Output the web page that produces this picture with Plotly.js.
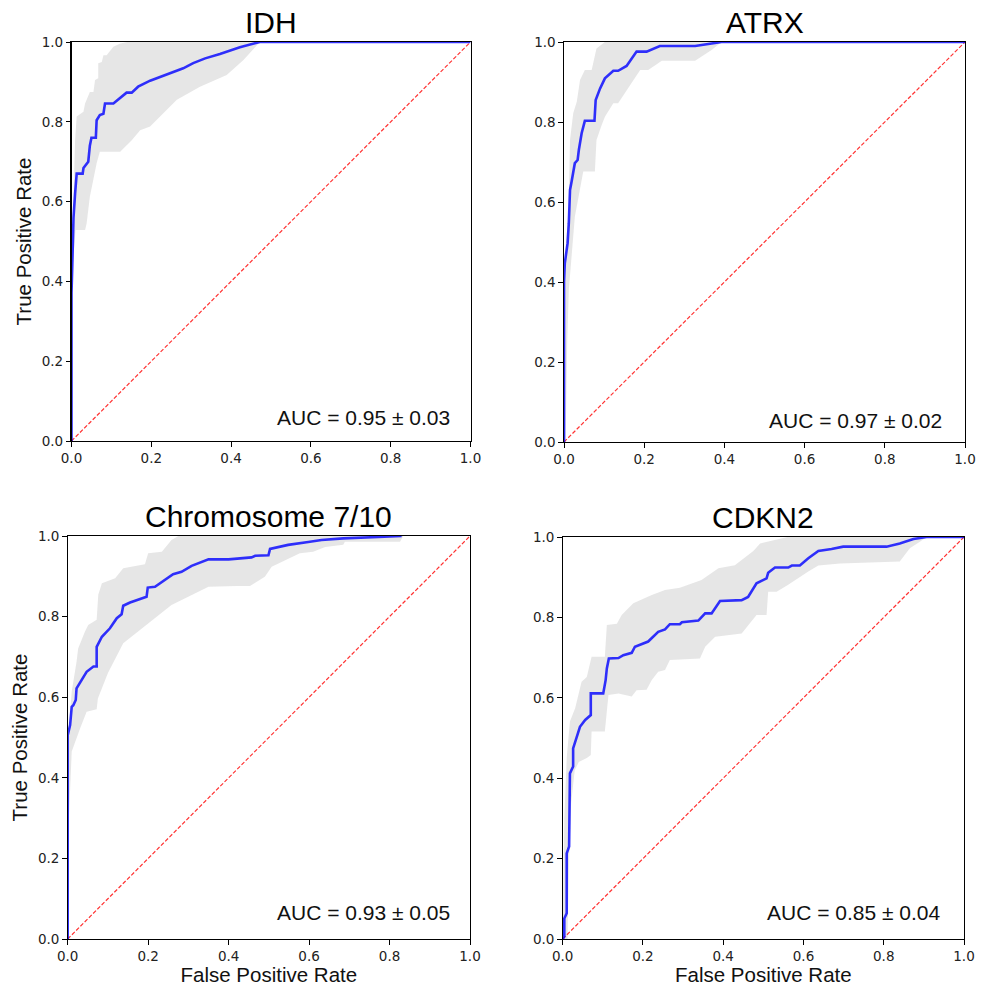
<!DOCTYPE html>
<html>
<head>
<meta charset="utf-8">
<script src="https://cdn.plot.ly/plotly-3.0.1.min.js"></script>
<style>html,body{margin:0;padding:0;background:#fff;}#chart{width:984px;height:986px;}</style>
</head>
<body>
<div id="chart"></div>
<script>
// ---------- data ----------
const panelTitles = ["IDH", "ATRX", "Chromosome 7/10", "CDKN2"];
const aucLabels = ["AUC = 0.95 ± 0.03", "AUC = 0.97 ± 0.02", "AUC = 0.93 ± 0.05", "AUC = 0.85 ± 0.04"];
const tickValues = [0, 0.2, 0.4, 0.6, 0.8, 1.0];
const chanceX = [0, 1];
const chanceY = [0, 1];

// IDH
const idhMeanX = [0, 0, 0.002, 0.005, 0.009, 0.013, 0.028, 0.03, 0.042, 0.046, 0.05, 0.061, 0.063, 0.071, 0.08, 0.084, 0.105, 0.122, 0.138, 0.151, 0.167, 0.197, 0.239, 0.28, 0.305, 0.335, 0.372, 0.422, 0.472, 1.0];
const idhMeanY = [0, 0.37, 0.44, 0.56, 0.62, 0.67, 0.67, 0.684, 0.70, 0.74, 0.76, 0.76, 0.804, 0.817, 0.82, 0.846, 0.846, 0.859, 0.873, 0.873, 0.888, 0.903, 0.919, 0.934, 0.947, 0.959, 0.97, 0.987, 1.0, 1.0];
const idhUpperX = [0, 0.002, 0.009, 0.013, 0.03, 0.034, 0.046, 0.055, 0.059, 0.067, 0.067, 0.076, 0.08, 0.088, 0.105, 0.122, 0.14, 1.0];
const idhUpperY = [0, 0.5, 0.754, 0.813, 0.825, 0.846, 0.875, 0.875, 0.905, 0.909, 0.947, 0.95, 0.967, 0.967, 0.988, 0.996, 1.0, 1.0];
const idhLowerX = [0, 0.002, 0.003, 0.01, 0.034, 0.038, 0.046, 0.063, 0.071, 0.122, 0.151, 0.172, 0.197, 0.264, 0.322, 0.389, 0.431, 0.472, 1.0];
const idhLowerY = [0, 0, 0.437, 0.529, 0.529, 0.546, 0.612, 0.696, 0.725, 0.725, 0.754, 0.779, 0.788, 0.855, 0.888, 0.917, 0.955, 1.0, 1.0];

// ATRX
const atrxMeanX = [0, 0, 0.002, 0.009, 0.012, 0.015, 0.019, 0.027, 0.034, 0.037, 0.044, 0.052, 0.076, 0.079, 0.09, 0.102, 0.123, 0.135, 0.156, 0.181, 0.206, 0.239, 0.327, 0.36, 0.393, 1.0];
const atrxMeanY = [0, 0.40, 0.447, 0.497, 0.547, 0.63, 0.651, 0.697, 0.705, 0.73, 0.772, 0.803, 0.803, 0.855, 0.884, 0.909, 0.928, 0.928, 0.94, 0.976, 0.976, 0.99, 0.99, 0.995, 1.0, 1.0];
const atrxUpperX = [0, 0, 0.005, 0.011, 0.015, 0.023, 0.032, 0.04, 0.052, 0.069, 0.081, 0.102, 1.0];
const atrxUpperY = [0, 0.4, 0.5, 0.563, 0.755, 0.822, 0.851, 0.905, 0.93, 0.93, 0.984, 1.0, 1.0];
const atrxLowerX = [0, 0.004, 0.008, 0.012, 0.017, 0.027, 0.048, 0.077, 0.081, 0.094, 0.102, 0.123, 0.135, 0.169, 0.19, 0.21, 0.244, 0.327, 0.368, 0.393, 1.0];
const atrxLowerY = [0, 0, 0.25, 0.38, 0.447, 0.563, 0.676, 0.676, 0.755, 0.7925, 0.813, 0.847, 0.847, 0.897, 0.93, 0.93, 0.953, 0.953, 0.98, 1.0, 1.0];

// Chromosome 7/10
const chrMeanX = [0, 0, 0.006, 0.01, 0.014, 0.02, 0.022, 0.035, 0.047, 0.064, 0.072, 0.072, 0.085, 0.105, 0.122, 0.134, 0.138, 0.155, 0.196, 0.199, 0.217, 0.262, 0.283, 0.308, 0.35, 0.4, 0.457, 0.466, 0.499, 0.503, 0.548, 0.598, 0.631, 0.685, 0.83];
const chrMeanY = [0, 0.506, 0.531, 0.576, 0.58, 0.593, 0.622, 0.643, 0.663, 0.676, 0.676, 0.725, 0.75, 0.771, 0.796, 0.806, 0.827, 0.835, 0.849, 0.872, 0.874, 0.905, 0.911, 0.926, 0.942, 0.942, 0.947, 0.951, 0.952, 0.968, 0.978, 0.985, 0.99, 0.994, 1.0];
const chrUpperX = [0, 0, 0.005, 0.01, 0.022, 0.026, 0.043, 0.051, 0.072, 0.076, 0.085, 0.118, 0.138, 0.192, 0.2, 0.234, 0.258, 0.275, 1.0];
const chrUpperY = [0, 0.407, 0.55, 0.614, 0.688, 0.721, 0.763, 0.779, 0.792, 0.854, 0.883, 0.895, 0.92, 0.93, 0.957, 0.961, 0.99, 1.0, 1.0];
const chrLowerX = [0, 0.003, 0.01, 0.031, 0.047, 0.072, 0.075, 0.1, 0.138, 0.2, 0.258, 0.35, 0.42, 0.453, 0.49, 0.507, 0.577, 0.61, 0.64, 0.685, 0.689, 0.826, 0.834, 1.0];
const chrLowerY = [0, 0.3, 0.465, 0.523, 0.564, 0.57, 0.597, 0.66, 0.734, 0.783, 0.829, 0.874, 0.876, 0.876, 0.899, 0.924, 0.957, 0.961, 0.973, 0.978, 0.986, 0.986, 1.0, 1.0];

// CDKN2
const cdkMeanX = [0, 0.004, 0.004, 0.01, 0.01, 0.016, 0.018, 0.026, 0.026, 0.035, 0.043, 0.056, 0.07, 0.07, 0.101, 0.107, 0.11, 0.115, 0.139, 0.151, 0.172, 0.18, 0.197, 0.213, 0.238, 0.255, 0.267, 0.292, 0.297, 0.338, 0.355, 0.371, 0.392, 0.446, 0.462, 0.483, 0.508, 0.512, 0.529, 0.562, 0.571, 0.591, 0.612, 0.637, 0.67, 0.699, 0.807, 0.84, 0.874, 0.907, 1.0];
const cdkMeanY = [0, 0.006, 0.051, 0.064, 0.213, 0.23, 0.412, 0.429, 0.474, 0.503, 0.528, 0.545, 0.557, 0.611, 0.611, 0.644, 0.673, 0.698, 0.699, 0.706, 0.712, 0.727, 0.733, 0.74, 0.764, 0.77, 0.783, 0.783, 0.788, 0.792, 0.81, 0.81, 0.841, 0.843, 0.851, 0.885, 0.897, 0.911, 0.924, 0.924, 0.929, 0.929, 0.947, 0.965, 0.97, 0.976, 0.976, 0.984, 0.995, 1.0, 1.0];
const cdkUpperX = [0, 0.004, 0.01, 0.018, 0.031, 0.047, 0.06, 0.072, 0.105, 0.11, 0.135, 0.147, 0.176, 0.222, 0.255, 0.292, 0.346, 0.388, 0.429, 0.475, 0.492, 0.529, 0.56, 1.0];
const cdkUpperY = [0, 0.3, 0.45, 0.541, 0.574, 0.64, 0.652, 0.702, 0.702, 0.781, 0.784, 0.806, 0.835, 0.856, 0.868, 0.874, 0.893, 0.922, 0.93, 0.965, 0.984, 0.993, 1.0, 1.0];
const cdkLowerX = [0, 0.012, 0.016, 0.021, 0.03, 0.04, 0.06, 0.07, 0.072, 0.105, 0.114, 0.139, 0.172, 0.184, 0.209, 0.222, 0.238, 0.255, 0.267, 0.342, 0.355, 0.38, 0.446, 0.483, 0.508, 0.512, 0.533, 0.562, 0.612, 0.637, 0.691, 0.84, 0.865, 0.89, 0.907, 1.0];
const cdkLowerY = [0, 0, 0.2, 0.338, 0.42, 0.44, 0.45, 0.458, 0.516, 0.516, 0.607, 0.611, 0.603, 0.619, 0.62, 0.644, 0.665, 0.669, 0.694, 0.698, 0.727, 0.752, 0.76, 0.806, 0.806, 0.864, 0.864, 0.881, 0.914, 0.929, 0.934, 0.939, 0.972, 0.988, 1.0, 1.0];

// ---------- build ----------
const panels = [
  {mx: idhMeanX, my: idhMeanY, ux: idhUpperX, uy: idhUpperY, lx: idhLowerX, ly: idhLowerY},
  {mx: atrxMeanX, my: atrxMeanY, ux: atrxUpperX, uy: atrxUpperY, lx: atrxLowerX, ly: atrxLowerY},
  {mx: chrMeanX, my: chrMeanY, ux: chrUpperX, uy: chrUpperY, lx: chrLowerX, ly: chrLowerY},
  {mx: cdkMeanX, my: cdkMeanY, ux: cdkUpperX, uy: cdkUpperY, lx: cdkLowerX, ly: cdkLowerY}
];

const traces = [];
panels.forEach((p, i) => {
  const xa = i === 0 ? 'x' : 'x' + (i + 1);
  const ya = i === 0 ? 'y' : 'y' + (i + 1);
  traces.push({
    x: p.ux.concat(p.lx.slice().reverse()),
    y: p.uy.concat(p.ly.slice().reverse()),
    xaxis: xa, yaxis: ya, type: 'scatter', mode: 'lines',
    fill: 'toself', fillcolor: 'rgba(128,128,128,0.2)',
    line: {width: 0, color: 'rgba(0,0,0,0)'}, hoverinfo: 'skip', showlegend: false
  });
  traces.push({
    x: chanceX, y: chanceY, xaxis: xa, yaxis: ya, type: 'scatter', mode: 'lines',
    line: {color: 'rgba(255,0,0,0.8)', width: 1.2, dash: '4px,2px'}, showlegend: false
  });
  traces.push({
    x: p.mx, y: p.my, xaxis: xa, yaxis: ya, type: 'scatter', mode: 'lines',
    line: {color: 'rgba(0,0,255,0.8)', width: 2.6}, showlegend: false
  });
});

const W = 984, H = 986;
// pixel boxes [left, right, top, bottom]
const boxes = [
  [71.5, 470.5, 42, 441],
  [564, 965, 42, 442],
  [67.7, 470, 536, 939],
  [562.7, 964, 537, 939]
];

const fontAx = {family: 'DejaVu Sans, sans-serif', size: 13.5, color: '#222'};
const fontTxt = 'Liberation Sans, Arial, sans-serif';

function axis(dom, anchor, titleText, isX) {
  const a = {
    domain: dom, anchor: anchor, range: [0, 1], autorange: false,
    showgrid: false, zeroline: false, showline: true, mirror: true,
    linecolor: '#000', linewidth: 1.1,
    ticks: 'outside', ticklen: 4.5, tickwidth: 1, tickcolor: '#000',
    tickvals: tickValues, tickformat: '.1f', tickfont: fontAx,
    fixedrange: true
  };
  if (titleText) {
    a.title = {text: titleText, font: {family: fontTxt, size: 20.5, color: '#111'}, standoff: isX ? 3 : 4};
  }
  return a;
}

const layout = {
  width: W, height: H,
  margin: {l: 0, r: 0, t: 0, b: 0},
  paper_bgcolor: '#fff', plot_bgcolor: '#fff',
  showlegend: false,
  annotations: []
};

boxes.forEach((b, i) => {
  const xd = [b[0] / W, b[1] / W];
  const yd = [1 - b[3] / H, 1 - b[2] / H];
  const xk = i === 0 ? 'xaxis' : 'xaxis' + (i + 1);
  const yk = i === 0 ? 'yaxis' : 'yaxis' + (i + 1);
  const xa = i === 0 ? 'x' : 'x' + (i + 1);
  const ya = i === 0 ? 'y' : 'y' + (i + 1);
  layout[xk] = axis(xd, ya, i >= 2 ? 'False Positive Rate' : null, true);
  layout[yk] = axis(yd, xa, (i % 2 === 0) ? 'True Positive Rate' : null, false);
  layout.annotations.push({
    text: panelTitles[i], xref: xa + ' domain', yref: ya + ' domain',
    x: 0.5, y: 1, xanchor: 'center', yanchor: 'bottom', yshift: 1, showarrow: false,
    font: {family: fontTxt, size: 30, color: '#000'}
  });
  layout.annotations.push({
    text: aucLabels[i], xref: xa + ' domain', yref: ya + ' domain',
    x: [0.954, 0.948, 0.955, 0.947][i], y: [0.058, 0.055, 0.065, 0.065][i],
    xanchor: 'right', yanchor: 'middle', showarrow: false,
    font: {family: fontTxt, size: 21, color: '#111'}
  });
});

Plotly.newPlot('chart', traces, layout, {staticPlot: true, displayModeBar: false});
</script>
</body>
</html>
